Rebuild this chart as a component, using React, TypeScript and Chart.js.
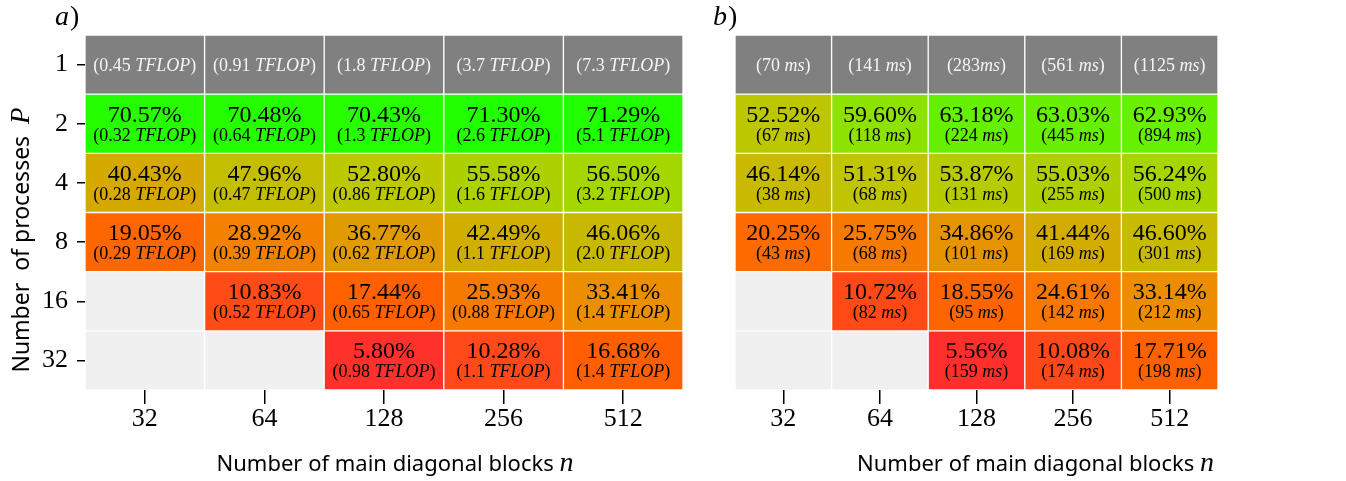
import React, { useEffect, useRef } from "react";
import { Chart, registerables } from "chart.js";
Chart.register(...registerables);

// ---------- categories ----------
const blocks = ["32", "64", "128", "256", "512"];
const processes = ["1", "2", "4", "8", "16", "32"];

// ---------- panel a) : efficiency (%) and TFLOP ----------
const tflopA_P1 = ["0.45", "0.91", "1.8", "3.7", "7.3"];
const effA_P2 = [70.57, 70.48, 70.43, 71.3, 71.29];
const tflopA_P2 = ["0.32", "0.64", "1.3", "2.6", "5.1"];
const effA_P4 = [40.43, 47.96, 52.8, 55.58, 56.5];
const tflopA_P4 = ["0.28", "0.47", "0.86", "1.6", "3.2"];
const effA_P8 = [19.05, 28.92, 36.77, 42.49, 46.06];
const tflopA_P8 = ["0.29", "0.39", "0.62", "1.1", "2.0"];
const effA_P16 = [null, 10.83, 17.44, 25.93, 33.41];
const tflopA_P16 = [null, "0.52", "0.65", "0.88", "1.4"];
const effA_P32 = [null, null, 5.8, 10.28, 16.68];
const tflopA_P32 = [null, null, "0.98", "1.1", "1.4"];

// ---------- panel b) : efficiency (%) and time (ms) ----------
const msB_P1 = ["70", "141", "283", "561", "1125"];
const gapB_P1 = [" ", " ", "", " ", " "];
const effB_P2 = [52.52, 59.6, 63.18, 63.03, 62.93];
const msB_P2 = ["67", "118", "224", "445", "894"];
const effB_P4 = [46.14, 51.31, 53.87, 55.03, 56.24];
const msB_P4 = ["38", "68", "131", "255", "500"];
const effB_P8 = [20.25, 25.75, 34.86, 41.44, 46.6];
const msB_P8 = ["43", "68", "101", "169", "301"];
const effB_P16 = [null, 10.72, 18.55, 24.61, 33.14];
const msB_P16 = [null, "82", "95", "142", "212"];
const effB_P32 = [null, null, 5.56, 10.08, 17.71];
const msB_P32 = [null, null, "159", "174", "198"];

// ---------- styles ----------
const GRAY = "#808080";
const EMPTY = "#F0F0F0";
const SERIF = "'Liberation Serif', 'Times New Roman', serif";
const SANS = "'Noto Sans', 'Open Sans', sans-serif";

const colorStops: [number, number[]][] = [
  [5, [255, 45, 45]],
  [10, [255, 72, 25]],
  [17, [255, 96, 0]],
  [25, [247, 120, 0]],
  [33, [236, 140, 0]],
  [40, [214, 168, 0]],
  [47, [198, 188, 0]],
  [53, [188, 200, 0]],
  [56, [168, 212, 0]],
  [60, [138, 228, 0]],
  [63, [102, 240, 0]],
  [71, [34, 255, 0]],
];

function effColor(v: number): string {
  if (v <= colorStops[0][0]) return `rgb(${colorStops[0][1].join(",")})`;
  for (let i = 1; i < colorStops.length; i++) {
    const [v1, c1] = colorStops[i];
    const [v0, c0] = colorStops[i - 1];
    if (v <= v1) {
      const t = (v - v0) / (v1 - v0);
      const c = c0.map((a, k) => Math.round(a + (c1[k] - a) * t));
      return `rgb(${c.join(",")})`;
    }
  }
  return `rgb(${colorStops[colorStops.length - 1][1].join(",")})`;
}

type Seg = { t: string; font: string };

function drawRich(ctx: CanvasRenderingContext2D, segs: Seg[], cx: number, baseline: number, color: string) {
  ctx.save();
  ctx.translate(cx, baseline);
  ctx.fillStyle = color;
  ctx.textBaseline = "alphabetic";
  ctx.textAlign = "left";
  let total = 0;
  const widths = segs.map((s) => {
    ctx.font = s.font;
    const w = ctx.measureText(s.t).width;
    total += w;
    return w;
  });
  let x = -total / 2;
  segs.forEach((s, i) => {
    ctx.font = s.font;
    ctx.fillText(s.t, x, 0);
    x += widths[i];
  });
  ctx.restore();
}

type CellSub = (r: number, c: number) => Seg[] | null;

function buildChart(
  canvas: HTMLCanvasElement,
  eff: (number | null)[][],
  sub: CellSub,
  letter: string,
  letterX: number,
  showY: boolean,
  padding: { left: number; right: number },
  titleShift: number
) {
  const datasets = processes.map((p, r) => ({
    label: "P=" + p,
    data: blocks.map(() => [r - 0.5, r + 0.5] as [number, number]),
    backgroundColor: blocks.map((_, c) => {
      if (r === 0) return GRAY;
      const v = eff[r][c];
      return v == null ? EMPTY : effColor(v);
    }),
    borderColor: "#ffffff",
    borderWidth: 1,
    borderSkipped: false,
    grouped: false,
    barPercentage: 1,
    categoryPercentage: 1,
  }));

  const labelPlugin = {
    id: "cellLabels",
    afterDatasetsDraw(chart: any) {
      const ctx = chart.ctx as CanvasRenderingContext2D;
      chart.data.datasets.forEach((_: any, r: number) => {
        const meta = chart.getDatasetMeta(r);
        meta.data.forEach((el: any, c: number) => {
          const pt = el.getCenterPoint();
          const segs = sub(r, c);
          if (r === 0) {
            if (segs) drawRich(ctx, segs, pt.x, pt.y + 6, "#f4f4f4");
            return;
          }
          const v = eff[r][c];
          if (v == null) return;
          drawRich(ctx, [{ t: v.toFixed(2) + "%", font: `24px ${SERIF}` }], pt.x, pt.y - 2, "#000");
          if (segs) drawRich(ctx, segs, pt.x, pt.y + 17, "#000");
        });
      });
    },
    afterDraw(chart: any) {
      const ctx = chart.ctx as CanvasRenderingContext2D;
      const ca = chart.chartArea;
      // panel letter
      ctx.save();
      ctx.fillStyle = "#000";
      ctx.textBaseline = "alphabetic";
      ctx.textAlign = "left";
      ctx.font = `italic 28px ${SERIF}`;
      ctx.fillText(letter, letterX, 25);
      const w = ctx.measureText(letter).width;
      ctx.font = `28px ${SERIF}`;
      ctx.fillText(")", letterX + w + 1, 25);
      ctx.restore();
      // x title
      drawRich(
        ctx,
        [
          { t: "Number of main diagonal blocks ", font: `22px ${SANS}` },
          { t: "n", font: `italic 28px ${SERIF}` },
        ],
        (ca.left + ca.right) / 2 + titleShift,
        471,
        "#000"
      );
      if (showY) {
        ctx.save();
        ctx.translate(29, 240);
        ctx.rotate(-Math.PI / 2);
        drawRich(
          ctx,
          [
            { t: "Number  of processes  ", font: `23px ${SANS}` },
            { t: "P", font: `italic 27px ${SERIF}` },
          ],
          0,
          0,
          "#000"
        );
        ctx.restore();
      }
    },
  };

  return new Chart(canvas, {
    type: "bar",
    data: { labels: blocks, datasets: datasets as any },
    plugins: [labelPlugin],
    options: {
      animation: false,
      responsive: false,
      maintainAspectRatio: false,
      layout: { padding: { top: 35, bottom: 0, left: padding.left, right: padding.right } },
      plugins: { legend: { display: false }, tooltip: { enabled: false } },
      scales: {
        x: {
          type: "category",
          offset: true,
          grid: {
            display: true,
            drawOnChartArea: false,
            drawTicks: true,
            tickLength: 14,
            offset: false,
            color: "#000",
            lineWidth: 1.5,
          },
          border: { display: false },
          ticks: { color: "#000", font: { family: SERIF, size: 26 }, padding: 0, maxRotation: 0 },
          afterFit: (s: any) => {
            s.height = 91;
          },
        },
        y: {
          type: "linear",
          min: -0.5,
          max: 5.5,
          reverse: true,
          display: showY,
          afterBuildTicks: (s: any) => {
            s.ticks = processes.map((_, i) => ({ value: i }));
          },
          grid: {
            display: true,
            drawOnChartArea: false,
            drawTicks: true,
            tickLength: 8,
            color: "#000",
            lineWidth: 1.5,
          },
          border: { display: false },
          ticks: {
            color: "#000",
            font: { family: SERIF, size: 26 },
            padding: 9,
            callback: (v: any) => processes[Math.round(Number(v))] ?? "",
          },
          afterFit: (s: any) => {
            s.width = showY ? 85 : 0;
          },
        },
      },
    } as any,
  });
}

const effA = [[null, null, null, null, null], effA_P2, effA_P4, effA_P8, effA_P16, effA_P32];
const tflopA = [tflopA_P1, tflopA_P2, tflopA_P4, tflopA_P8, tflopA_P16, tflopA_P32];
const effB = [[null, null, null, null, null], effB_P2, effB_P4, effB_P8, effB_P16, effB_P32];
const msB = [msB_P1, msB_P2, msB_P4, msB_P8, msB_P16, msB_P32];

export default function App() {
  const refA = useRef<HTMLCanvasElement>(null);
  const refB = useRef<HTMLCanvasElement>(null);

  useEffect(() => {
    const subA: CellSub = (r, c) => {
      const v = tflopA[r][c];
      if (v == null) return null;
      return [
        { t: "(" + v + " ", font: `18px ${SERIF}` },
        { t: "TFLOP", font: `italic 18px ${SERIF}` },
        { t: ")", font: `18px ${SERIF}` },
      ];
    };
    const subB: CellSub = (r, c) => {
      const v = msB[r][c];
      if (v == null) return null;
      const gap = r === 0 ? gapB_P1[c] : " ";
      return [
        { t: "(" + v + gap, font: `18px ${SERIF}` },
        { t: "ms", font: `italic 18px ${SERIF}` },
        { t: ")", font: `18px ${SERIF}` },
      ];
    };
    const a = buildChart(refA.current!, effA as any, subA, "a", 55, true, { left: 0, right: 7 }, 11);
    const b = buildChart(refB.current!, effB as any, subB, "b", 23, false, { left: 45, right: 128 }, 59);
    return () => {
      a.destroy();
      b.destroy();
    };
  }, []);

  return (
    <div style={{ position: "absolute", left: 0, top: 0, width: 1346, height: 481, background: "#fff" }}>
      <canvas ref={refA} width={690} height={481} style={{ position: "absolute", left: 0, top: 0, width: 690, height: 481 }} />
      <canvas ref={refB} width={656} height={481} style={{ position: "absolute", left: 690, top: 0, width: 656, height: 481 }} />
    </div>
  );
}
